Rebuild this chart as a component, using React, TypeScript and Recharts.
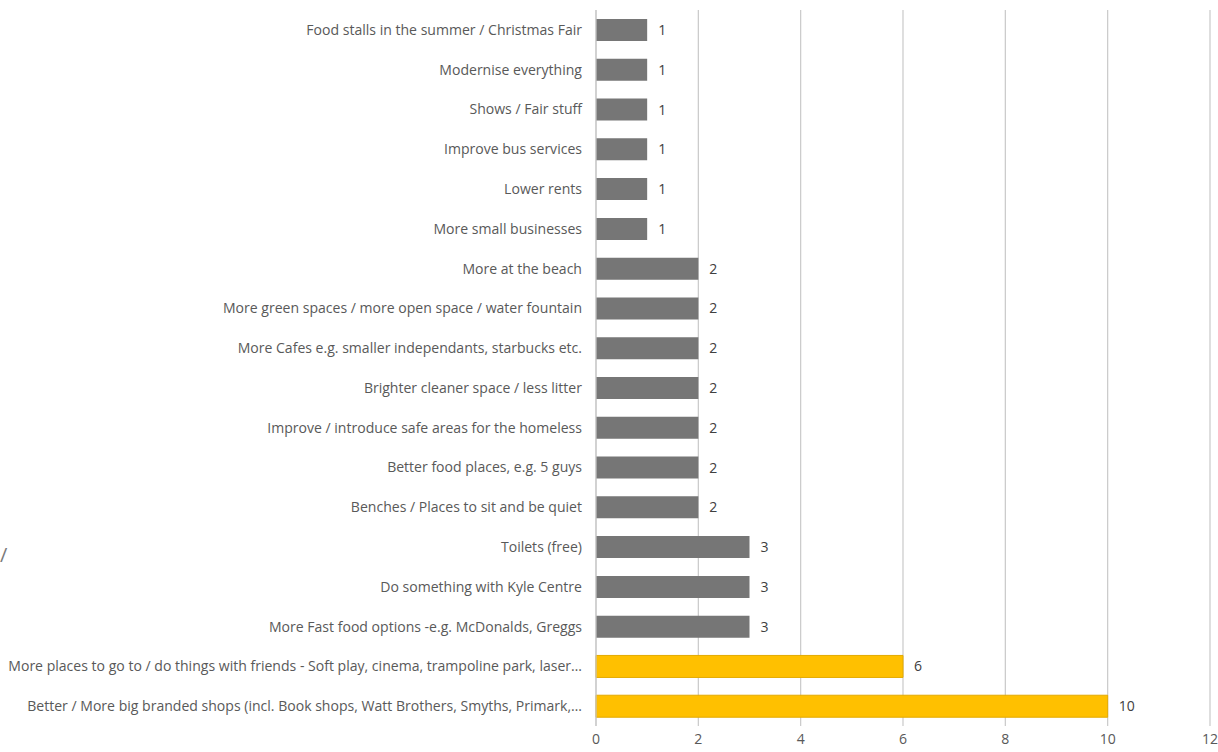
import React from 'react';
import { BarChart, Bar, XAxis, YAxis, CartesianGrid, Cell, LabelList } from 'recharts';

const categories = [
  'Food stalls in the summer / Christmas Fair',
  'Modernise everything',
  'Shows / Fair stuff',
  'Improve bus services',
  'Lower rents',
  'More small businesses',
  'More at the beach',
  'More green spaces / more open space / water fountain',
  'More Cafes e.g. smaller independants, starbucks etc.',
  'Brighter cleaner space / less litter',
  'Improve / introduce safe areas for the homeless',
  'Better food places, e.g. 5 guys',
  'Benches / Places to sit and be quiet',
  'Toilets (free)',
  'Do something with Kyle Centre',
  'More Fast food options -e.g. McDonalds, Greggs ',
  'More places to go to / do things with friends - Soft play, cinema, trampoline park, laser\u2026',
  'Better / More big branded shops (incl. Book shops, Watt Brothers, Smyths, Primark,\u2026',
];
const values = [1, 1, 1, 1, 1, 1, 2, 2, 2, 2, 2, 2, 2, 3, 3, 3, 6, 10];
const highlighted = [false, false, false, false, false, false, false, false, false, false, false, false, false, false, false, false, true, true];
const xTicks = [0, 2, 4, 6, 8, 10, 12];

const data = categories.map((c, i) => ({ name: c, value: values[i], hi: highlighted[i] }));

const FONT = '"Open Sans", sans-serif';
const FS = 14.05;

const YTick = (props: any) => {
  const { x, y, payload } = props;
  return (
    <text x={x} y={y} dy={5} textAnchor="end" fontFamily={FONT} fontSize={FS} fill="#595959">
      {payload.value}
    </text>
  );
};

export default function App() {
  return (
    <div style={{ position: 'absolute', left: 0, top: 0, width: 1218, height: 752, background: '#fff' }}>
      <span style={{ position: 'absolute', left: 0, top: 542, fontFamily: FONT, fontSize: 20, lineHeight: '26px', color: '#7a7a7a' }}>/</span>
      <BarChart
        width={1218}
        height={752}
        data={data}
        layout="vertical"
        margin={{ top: 10, right: 8, bottom: 0, left: 0 }}
        barSize={22}
      >
        <CartesianGrid horizontal={false} vertical={true} stroke="#c9c9c9" strokeWidth={1.2} />
        <XAxis
          type="number"
          domain={[0, 12]}
          ticks={xTicks}
          axisLine={false}
          tickLine={false}
          height={26}
          tick={{ fontFamily: FONT, fontSize: FS, fill: '#595959' }}
          tickMargin={2}
        />
        <YAxis
          type="category"
          dataKey="name"
          width={596}
          axisLine={{ stroke: '#c9c9c9', strokeWidth: 1.2 }}
          tickLine={false}
          tick={<YTick />}
          tickMargin={8}
          interval={0}
        />
        <Bar dataKey="value" isAnimationActive={false}>
          {data.map((d, i) => (
            <Cell key={i} fill={d.hi ? '#FFC000' : '#767676'} stroke={d.hi ? '#E3AA00' : 'none'} strokeWidth={1} />
          ))}
          <LabelList dataKey="value" position="right" offset={11} style={{ fontFamily: FONT, fontSize: FS, fill: '#404040' }} />
        </Bar>
      </BarChart>
    </div>
  );
}
